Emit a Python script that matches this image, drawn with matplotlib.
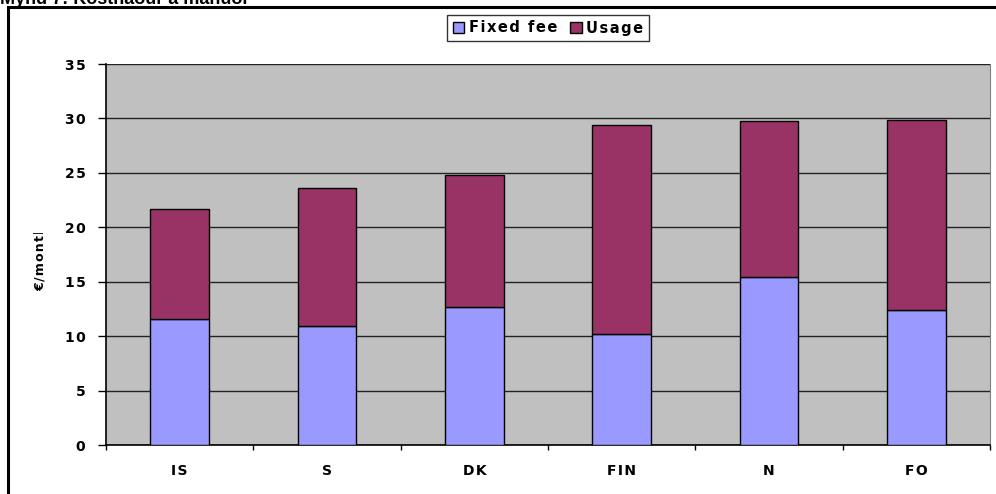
import matplotlib.pyplot as plt
from matplotlib.patches import Rectangle

# Monthly cost per country, €/month
countries = ["IS", "S", "DK", "FIN", "N", "FO"]
fixed_fee = [11.56, 10.96, 12.72, 10.18, 15.40, 12.36]
usage = [10.10, 12.66, 12.10, 19.22, 14.32, 17.54]
y_ticks = [0, 5, 10, 15, 20, 25, 30, 35]

plt.rcParams["font.family"] = ["DejaVu Sans"]


# the original uses wide letter spacing; emulate it with hair spaces
def spaced(s, n=1):
    return ("\u200a" * n).join(s)


fig = plt.figure(figsize=(9.96, 4.94), dpi=100)
ax = fig.add_axes([106 / 996, 49 / 494, 884 / 996, 381 / 494])

# outer chart frame (partly cut off at the image edges)
frame = Rectangle((8 / 996, -0.2), 1.2, 1.2 - 7.5 / 494,
                  transform=fig.transFigure, fill=False, edgecolor="black",
                  linewidth=2.2, clip_on=False)
fig.patches.append(frame)

# clipped title at the very top
fig.text(0.0, 1 - 4 / 494, "Mynd 7: Kostnaður á mánuði",
         family="Liberation Sans", fontsize=13, fontweight="bold",
         va="baseline", ha="left")

x = list(range(len(countries)))
ax.bar(x, fixed_fee, width=0.4, color="#9999FF", edgecolor="black",
       linewidth=1, label=spaced("Fixed fee"), zorder=3)
ax.bar(x, usage, width=0.4, bottom=fixed_fee, color="#993366",
       edgecolor="black", linewidth=1, label=spaced("Usage"), zorder=3)

ax.set_facecolor("#C0C0C0")
ax.set_xlim(-0.5, len(countries) - 0.5)
ax.set_ylim(0, 35)
ax.set_yticks(y_ticks)
ax.set_yticklabels([spaced(str(v)) for v in y_ticks],
                   fontsize=10, fontweight="bold")
ax.yaxis.grid(True, color="#222222", linewidth=1, zorder=1)
ax.set_axisbelow(True)

# category boundaries as major ticks, labels on minor ticks at the centers
ax.set_xticks([i - 0.5 for i in range(len(countries) + 1)])
ax.set_xticklabels([])
ax.set_xticks(x, minor=True)
ax.set_xticklabels([spaced(c) for c in countries], minor=True,
                   fontsize=10, fontweight="bold")
ax.tick_params(axis="x", which="major", length=3.6, width=1, direction="out")
ax.tick_params(axis="x", which="minor", length=0, pad=14)
ax.tick_params(axis="y", length=5.8, width=1, direction="out", pad=9)

for side in ["left", "bottom"]:
    ax.spines[side].set_color("black")
    ax.spines[side].set_linewidth(1.2)
ax.spines["right"].set_color("#808080")
ax.spines["top"].set_visible(False)

# y label, cut off at the top like in the original
ylab = fig.text(40 / 996, 1 - 291 / 494, spaced("€/month"), rotation=90,
                fontsize=9, fontweight="bold", ha="center", va="bottom")
clip = Rectangle((0, 0), 0.2, 1 - 233 / 494, transform=fig.transFigure)
ylab.set_clip_path(clip)

leg = fig.legend(loc="center", bbox_to_anchor=(548 / 996, 1 - 28 / 494),
                 ncol=2, fontsize=10.5, frameon=True, fancybox=False,
                 handlelength=0.8, handleheight=0.8, handletextpad=0.3,
                 columnspacing=0.9, borderpad=0.4, borderaxespad=0)
leg.get_frame().set_edgecolor("black")
leg.get_frame().set_linewidth(1)
for t in leg.get_texts():
    t.set_fontweight("bold")

fig.savefig("out.png", dpi=100)
